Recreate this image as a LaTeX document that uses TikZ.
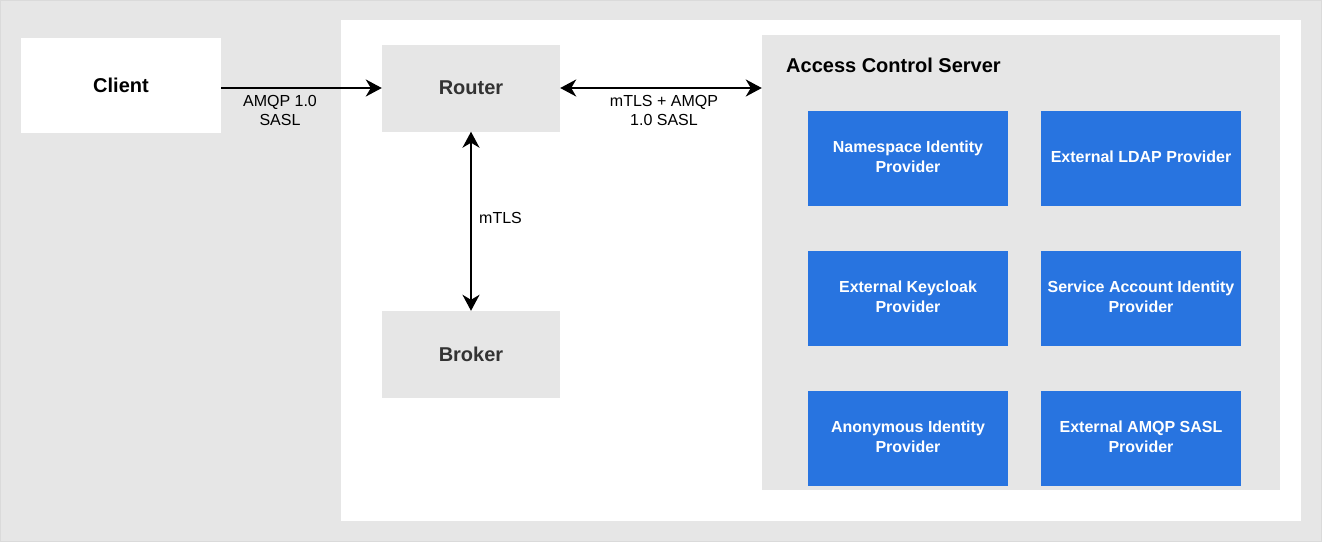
\documentclass[tikz,border=0pt]{standalone}
\usepackage{fontspec}
\setmainfont{Liberation Sans}
\usetikzlibrary{arrows.meta}
\definecolor{bg}{HTML}{E6E6E6}
\definecolor{bgline}{HTML}{DADADA}
\definecolor{blu}{HTML}{2874E0}
\definecolor{txt}{HTML}{333333}
\begin{document}
\begin{tikzpicture}[x=1pt,y=-1pt,
  box/.style={rectangle,inner sep=0pt,font=\fontsize{20}{24}\selectfont\bfseries},
  graybox/.style={box,fill=bg,text=txt,minimum width=178pt,minimum height=87pt},
  bluebox/.style={rectangle,inner sep=0pt,fill=blu,minimum width=200pt,minimum height=95pt},
  bluetext/.style={inner sep=0pt,text=white,align=center,font=\fontsize{16}{20}\selectfont\bfseries},
  lbl/.style={inner sep=0pt,align=center,font=\fontsize{16}{19.5}\selectfont},
  tip/.tip={Stealth[length=16pt,width=17pt,inset=5pt]},
  conn/.style={line width=2pt,draw=black}
]
\useasboundingbox (0,0) rectangle (1322,542);
\filldraw[fill=bg,draw=bgline,line width=1pt] (0.5,0.5) rectangle (1321.5,541.5);
\fill[white] (341,20) rectangle (1301,521);

\node[box,fill=white,text=black,minimum width=200pt,minimum height=95pt] (client) at (121,85.5) {Client};
\node[graybox] (router) at (471,88) {Router};
\node[graybox] (broker) at (471,354.5) {Broker};

\node[rectangle,fill=bg,minimum width=518pt,minimum height=455pt,inner sep=0pt] (acs) at (1021,262.5) {};
\node[anchor=west,inner sep=0pt,font=\fontsize{20}{24}\selectfont\bfseries] (acstitle) at (786,65) {Access Control Server};

\node[bluebox] (ns) at (908,158) {};
\node[bluebox] (ldap) at (1141,158) {};
\node[bluebox] (kc) at (908,298) {};
\node[bluebox] (sa) at (1141,298) {};
\node[bluebox] (anon) at (908,438.5) {};
\node[bluebox] (sasl) at (1141,438.5) {};
\node[bluetext] (nst) at ([yshift=1.5pt]ns.center) {Namespace Identity\\Provider};
\node[bluetext] (ldapt) at ([yshift=1.5pt]ldap.center) {External LDAP Provider};
\node[bluetext] (kct) at ([yshift=1.5pt]kc.center) {External Keycloak\\Provider};
\node[bluetext] (sat) at ([yshift=1.5pt]sa.center) {Service Account Identity\\Provider};
\node[bluetext] (anont) at ([yshift=1.5pt]anon.center) {Anonymous Identity\\Provider};
\node[bluetext] (saslt) at ([yshift=1.5pt]sasl.center) {External AMQP SASL\\Provider};

\draw[conn,-tip] (client.east |- router.west) -- (router.west);
\draw[conn,tip-tip] (router.east) -- (router.east -| acs.west);
\draw[conn,tip-tip] (router.south) -- (broker.north);

\node[lbl] (l1) at (280,110.5) {AMQP 1.0\\SASL};
\node[lbl] (l2) at (664,110.5) {mTLS + AMQP\\1.0 SASL};
\node[lbl,anchor=west] (l3) at (479,218) {mTLS};
\end{tikzpicture}
\end{document}
